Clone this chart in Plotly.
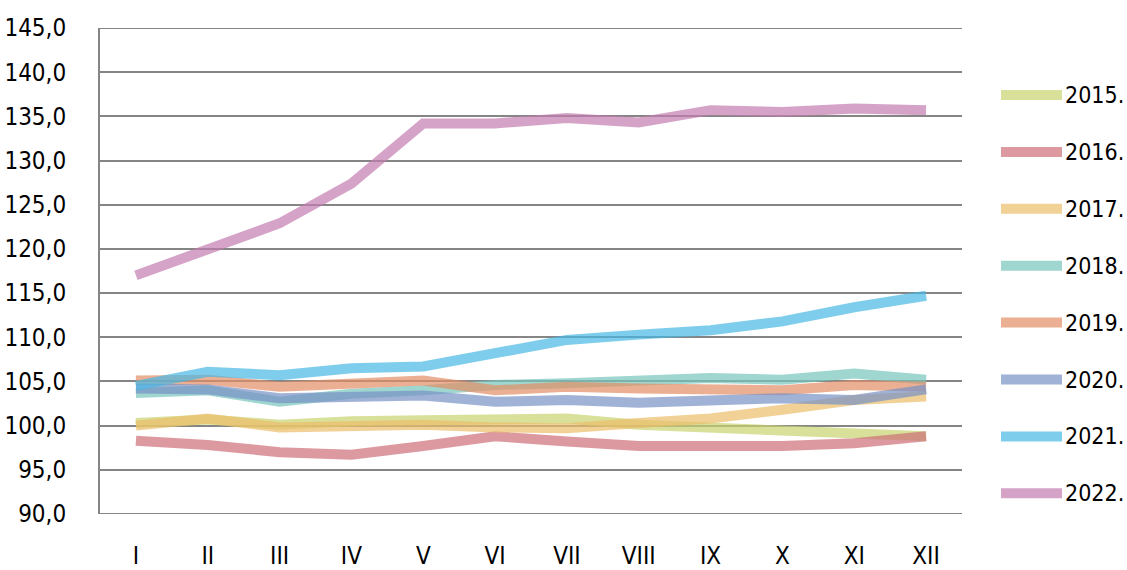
import plotly.graph_objects as go

months = ["I", "II", "III", "IV", "V", "VI", "VII", "VIII", "IX", "X", "XI", "XII"]

y2015 = [100.3, 100.7, 100.1, 100.5, 100.6, 100.8, 100.8, 100.1, 99.8, 99.5, 99.1, 98.8]
y2016 = [98.3, 97.8, 97.0, 96.7, 97.7, 98.8, 98.2, 97.7, 97.7, 97.7, 98.0, 98.8]
y2017 = [100.0, 100.8, 99.8, 100.0, 100.1, 99.8, 99.7, 100.3, 100.8, 101.8, 102.9, 103.3]
y2018 = [103.7, 104.0, 102.7, 103.6, 104.0, 104.6, 104.8, 105.0, 105.4, 105.2, 105.9, 105.2]
y2019 = [105.1, 105.2, 104.4, 104.8, 105.1, 104.0, 104.4, 104.2, 104.0, 104.0, 104.6, 104.4]
y2020 = [104.2, 104.1, 103.1, 103.2, 103.4, 102.7, 102.9, 102.6, 102.9, 103.1, 102.9, 104.1]
y2021 = [104.5, 106.1, 105.7, 106.5, 106.7, 108.3, 109.7, 110.3, 110.8, 111.8, 113.4, 114.7]
y2022 = [117.0, 119.9, 122.9, 127.4, 134.2, 134.2, 134.8, 134.3, 135.7, 135.5, 135.9, 135.7]

series_names = ["2015.", "2016.", "2017.", "2018.", "2019.", "2020.", "2021.", "2022."]
series_values = [y2015, y2016, y2017, y2018, y2019, y2020, y2021, y2022]
series_colors = [
    "rgba(201,211,111,0.7)",
    "rgba(205,111,119,0.7)",
    "rgba(235,189,105,0.7)",
    "rgba(118,196,188,0.7)",
    "rgba(226,142,101,0.7)",
    "rgba(119,145,197,0.7)",
    "rgba(72,184,228,0.7)",
    "rgba(195,124,175,0.7)",
]

y_ticks = [90, 95, 100, 105, 110, 115, 120, 125, 130, 135, 140, 145]
y_tick_text = [f"{v:.1f}".replace(".", ",") for v in y_ticks]

FONT = "DejaVu Sans Condensed, Liberation Sans Narrow, sans-serif"
GRID = "#858585"

W, H = 1127, 570
ML, MR, MT, MB = 100, 165, 28, 56
PW, PH = W - ML - MR, H - MT - MB


def px_x(px):
    return (px - ML) / PW


def px_y(py):
    return (H - MB - py) / PH


fig = go.Figure()
for name, vals, col in zip(series_names, series_values, series_colors):
    fig.add_trace(go.Scatter(
        x=months, y=vals, name=name, mode="lines",
        line=dict(color=col, width=10),
        showlegend=False,
    ))

shapes, annos = [], []
# edge gridlines (bottom and top ticks), which plotly skips at the plot border
for yv in (y_ticks[0], y_ticks[-1]):
    shapes.append(dict(type="line", xref="paper", yref="y", x0=0, x1=1, y0=yv, y1=yv,
                       line=dict(color=GRID, width=2), layer="below"))

# manual legend (right side)
for i, (name, col) in enumerate(zip(series_names, series_colors)):
    yc = 95 + 56.9 * i
    shapes.append(dict(type="line", xref="paper", yref="paper",
                       x0=px_x(1001), x1=px_x(1062), y0=px_y(yc), y1=px_y(yc),
                       line=dict(color=col, width=10)))
    annos.append(dict(text=name, xref="paper", yref="paper",
                      x=px_x(1063), y=px_y(yc), xanchor="left", yanchor="middle",
                      showarrow=False,
                      font=dict(family=FONT, size=23, color="black")))

fig.update_layout(
    width=W, height=H,
    margin=dict(l=ML, r=MR, t=MT, b=MB),
    plot_bgcolor="white", paper_bgcolor="white",
    font=dict(family=FONT, size=24, color="black"),
    showlegend=False,
    shapes=shapes, annotations=annos,
    xaxis=dict(
        type="category", range=[-0.5, 11.5], automargin=False,
        showgrid=False, zeroline=False, showline=False,
        ticks="outside", ticklen=20, tickcolor="rgba(0,0,0,0)",
        tickfont=dict(family=FONT, size=24, color="black"),
    ),
    yaxis=dict(
        range=[90, 145], tickvals=y_ticks, ticktext=y_tick_text, automargin=False,
        showgrid=True, gridcolor=GRID, gridwidth=2,
        zeroline=False, showline=True, linecolor=GRID, linewidth=2,
        ticks="outside", ticklen=27, tickcolor="rgba(0,0,0,0)",
        tickfont=dict(family=FONT, size=24, color="black"),
    ),
)

fig.write_html(
    "out.html",
    config={"displayModeBar": False},
    post_script="document.body.style.margin='0';document.body.style.padding='0';",
)
